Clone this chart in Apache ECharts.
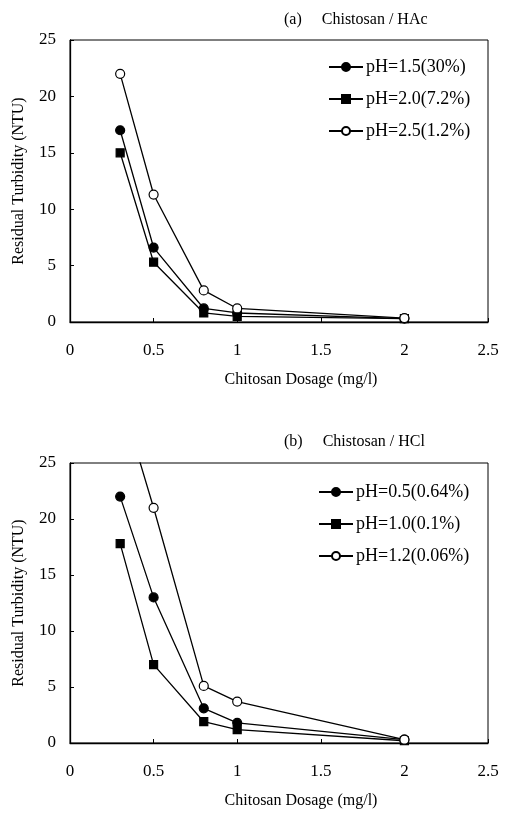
<!DOCTYPE html>
<html>
<head>
<meta charset="utf-8">
<script src="https://cdn.jsdelivr.net/npm/echarts@6/dist/echarts.min.js"></script>
<style>html,body{margin:0;padding:0;background:#fff}#c{width:523px;height:827px}</style>
</head>
<body>
<div id="c"></div>
<script>
var dosage = [0.3, 0.5, 0.8, 1.0, 2.0];
var xTicks = [0, 0.5, 1, 1.5, 2, 2.5];
var yTicks = [0, 5, 10, 15, 20, 25];
var namesA = ['pH=1.5(30%)', 'pH=2.0(7.2%)', 'pH=2.5(1.2%)'];
var hacPH15 = [17, 6.6, 1.2, 0.8, 0.3];
var hacPH20 = [15, 5.3, 0.8, 0.5, 0.3];
var hacPH25 = [22, 11.3, 2.8, 1.2, 0.35];
var namesB = ['pH=0.5(0.64%)', 'pH=1.0(0.1%)', 'pH=1.2(0.06%)'];
var hclPH05 = [22, 13, 3.1, 1.8, 0.3];
var hclPH10 = [17.8, 7, 1.9, 1.2, 0.2];
var hclPH12 = [31, 21, 5.1, 3.7, 0.3];

function pairs(ys){ return dosage.map(function(x,i){ return [x, ys[i]]; }); }
var F = 'Liberation Serif';
var symbols = [
  {symbol:'circle', color:'#000'},
  {symbol:'rect', color:'#000'},
  {symbol:'circle', color:'#fff'}
];
function mkSeries(name, ys, k, gi){
  return {
    name: name, type: 'line', xAxisIndex: gi, yAxisIndex: gi,
    data: pairs(ys), symbol: symbols[k].symbol, symbolSize: k===1?8:9,
    itemStyle: {color: symbols[k].color, borderColor:'#000', borderWidth: 1.2},
    lineStyle: {color:'#000', width: 1.3},
    clip: true, animation: false
  };
}
function xAx(gi){
  return {
    type:'value', gridIndex: gi, min: xTicks[0], max: xTicks[xTicks.length-1], interval: 0.5,
    axisLine:{show:true, lineStyle:{color:'#000', width:1.3}},
    axisTick:{show:true, inside:true, length:4, lineStyle:{color:'#000'}},
    axisLabel:{color:'#000', fontFamily:F, fontSize:17, margin:20},
    splitLine:{show:false},
    name:'Chitosan Dosage (mg/l)', nameLocation:'middle', nameGap: 50,
    nameTextStyle:{color:'#000', fontFamily:F, fontSize:16, padding:[0,0,0,44]}
  };
}
function yAx(gi){
  return {
    type:'value', gridIndex: gi, min: yTicks[0], max: yTicks[yTicks.length-1], interval: 5,
    axisLine:{show:true, lineStyle:{color:'#000', width:1.3}},
    axisTick:{show:true, inside:true, length:4, lineStyle:{color:'#000'}},
    axisLabel:{color:'#000', fontFamily:F, fontSize:17, margin:14},
    splitLine:{show:false},
    name:'Residual Turbidity (NTU)', nameLocation:'middle', nameGap: 43,
    nameTextStyle:{color:'#000', fontFamily:F, fontSize:16}
  };
}
function legend(names, top, left){
  return {
    data: names, orient:'vertical', left: left, top: top, itemWidth: 34, itemHeight: 10, itemGap: 14,
    textStyle:{color:'#000', fontFamily:F, fontSize:18, padding:[0,0,0,-2]},
    inactiveColor:'#000', selectedMode:false
  };
}
var chart = echarts.init(document.getElementById('c'), null, {renderer:'canvas'});
chart.setOption({
  backgroundColor:'#fff',
  animation:false,
  title:[
    {text:'(a)     Chistosan / HAc', left: 279, top: 7, textStyle:{color:'#000', fontFamily:F, fontSize:16, fontWeight:'normal'}},
    {text:'(b)     Chistosan / HCl', left: 279, top: 429, textStyle:{color:'#000', fontFamily:F, fontSize:16, fontWeight:'normal'}}
  ],
  legend:[legend(namesA, 53, 323), legend(namesB, 478, 313)],
  grid:[
    {left:70, top:40, width:418, height:282, show:true, borderColor:'#000', borderWidth:1, backgroundColor:'transparent'},
    {left:70, top:463, width:418, height:280, show:true, borderColor:'#000', borderWidth:1, backgroundColor:'transparent'}
  ],
  xAxis:[xAx(0), xAx(1)],
  yAxis:[yAx(0), yAx(1)],
  series:[
    mkSeries(namesA[0], hacPH15, 0, 0),
    mkSeries(namesA[1], hacPH20, 1, 0),
    mkSeries(namesA[2], hacPH25, 2, 0),
    mkSeries(namesB[0], hclPH05, 0, 1),
    mkSeries(namesB[1], hclPH10, 1, 1),
    mkSeries(namesB[2], hclPH12, 2, 1)
  ]
});
</script>
</body>
</html>
